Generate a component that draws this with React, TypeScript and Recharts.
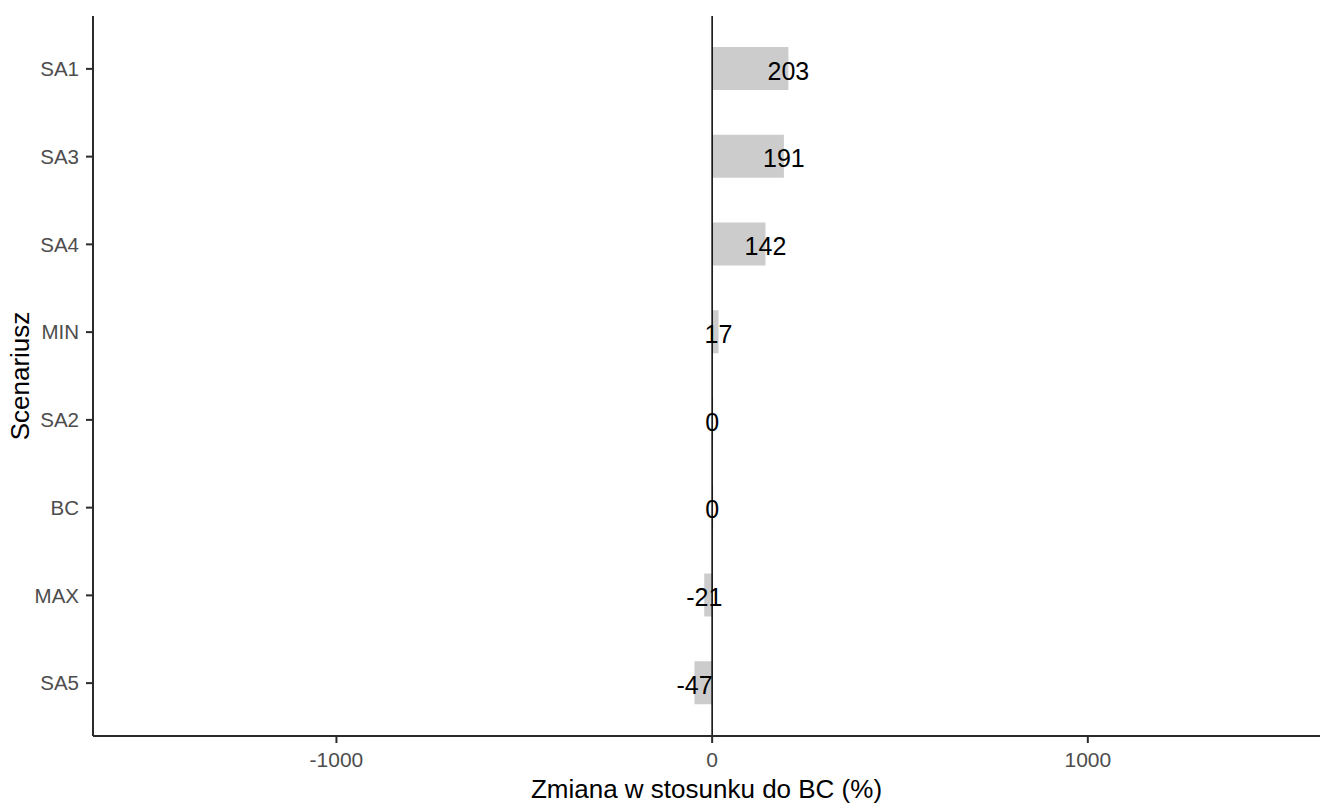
import React from 'react';
import { BarChart, Bar, XAxis, YAxis, ReferenceLine, LabelList } from 'recharts';

const scenarios = ['SA1', 'SA3', 'SA4', 'MIN', 'SA2', 'BC', 'MAX', 'SA5'];
const changes = [203, 191, 142, 17, 0, 0, -21, -47];
const xTicks = [-1000, 0, 1000];

const data = scenarios.map((name, i) => ({ name, value: changes[i] }));

const FONT = '"Liberation Sans", Arial, sans-serif';
const AXIS = '#2b2b2b';

const ValueLabel = (props: any) => {
  const { x, y, width, height, value } = props;
  const a = Number(x);
  const b = Number(x) + Number(width);
  // label sits on the end of the bar (value position)
  const cx = value > 0 ? Math.max(a, b) : value < 0 ? Math.min(a, b) : Math.min(a, b);
  return (
    <text
      x={cx}
      y={Number(y) + Number(height) / 2 + 2}
      textAnchor="middle"
      dominantBaseline="central"
      fontSize={25}
      fontFamily={FONT}
      fill="#000000"
    >
      {value}
    </text>
  );
};

const YTitle = (props: any) => {
  const vb = props.viewBox || {};
  const cy = vb.y + vb.height / 2;
  const cx = 29;
  return (
    <text
      x={cx}
      y={cy}
      transform={`rotate(-90, ${cx}, ${cy})`}
      textAnchor="middle"
      fontSize={26}
      fontFamily={FONT}
      fill="#000000"
    >
      Scenariusz
    </text>
  );
};

const App: React.FC = () => {
  return (
    <div style={{ position: 'absolute', left: 0, top: 0, background: '#ffffff', fontFamily: FONT }}>
      <BarChart
        width={1320}
        height={803}
        data={data}
        layout="vertical"
        margin={{ top: 16, right: 0, left: 0, bottom: 0 }}
      >
        <XAxis
          type="number"
          domain={[-1648, 1618]}
          allowDataOverflow
          ticks={xTicks}
          height={67}
          stroke={AXIS}
          strokeWidth={2}
          tickSize={7}
          tickMargin={9}
          tick={{ fill: '#4D4D4D', fontSize: 21, fontFamily: FONT }}
          label={{
            value: 'Zmiana w stosunku do BC (%)',
            position: 'insideBottom',
            offset: 5,
            fill: '#000000',
            fontSize: 26,
            fontFamily: FONT,
          }}
        />
        <YAxis
          type="category"
          dataKey="name"
          width={93}
          padding={{ top: 9, bottom: 9 }}
          stroke={AXIS}
          strokeWidth={2}
          tickSize={7}
          tickMargin={7}
          tick={{ fill: '#4D4D4D', fontSize: 20.5, fontFamily: FONT }}
          label={<YTitle />}
        />
        <Bar dataKey="value" fill="#CCCCCC" barSize={43} minPointSize={1} isAnimationActive={false}>
          <LabelList dataKey="value" content={<ValueLabel />} />
        </Bar>
        <ReferenceLine x={0} stroke="#000000" strokeWidth={1.5} />
      </BarChart>
    </div>
  );
};

export default App;
